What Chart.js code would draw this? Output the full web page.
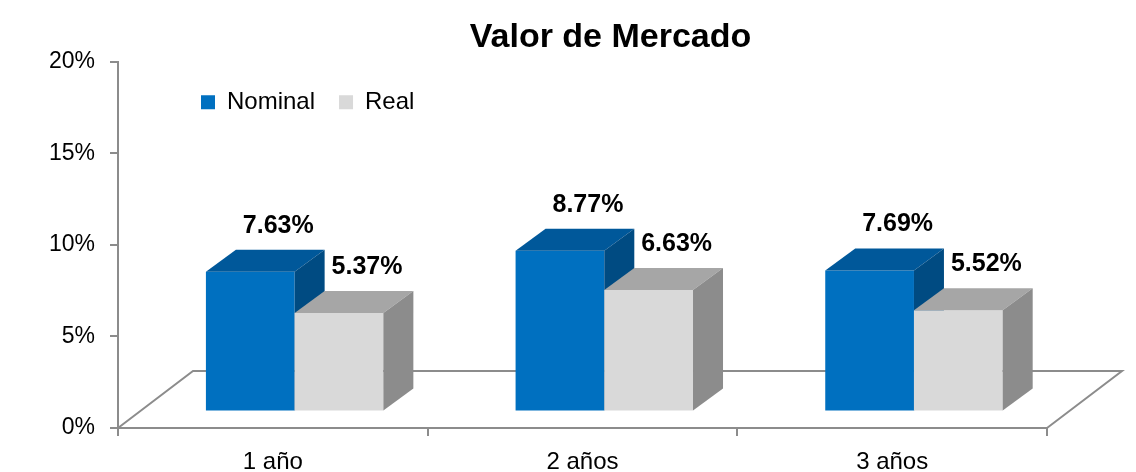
<!DOCTYPE html>
<html>
<head>
<meta charset="utf-8">
<script src="https://cdn.jsdelivr.net/npm/chart.js@4/dist/chart.umd.min.js"></script>
<style>
  html, body { margin: 0; padding: 0; background: #ffffff; }
  #wrap { width: 1136px; height: 472px; position: relative; }
</style>
</head>
<body>
<div id="wrap"><canvas id="c"></canvas></div>
<script>
// ---- data ----
const categories = ['1 año', '2 años', '3 años'];
const seriesNames = ['Nominal', 'Real'];
const nominalValues = [7.63, 8.77, 7.69];
const realValues = [5.37, 6.63, 5.52];
const yTicks = [0, 5, 10, 15, 20];
const chartTitle = 'Valor de Mercado';

// ---- style ----
const FONT = '"Liberation Sans", Arial, sans-serif';
const AXIS_GRAY = '#8c8c8c';
const FLOOR_DEPTH = { x: 75, y: -57 };     // floor depth vector
const BAR_SHIFT = { x: 21.8, y: -16.6 };   // where bars stand inside the floor
const BAR_DEPTH = { x: 30, y: -22 };       // 3D depth of each bar
const faceColors = [
  { front: '#0070C0', top: '#00589A', side: '#004B82' },
  { front: '#D9D9D9', top: '#A6A6A6', side: '#8C8C8C' }
];

const threeD = {
  id: 'threeD',
  beforeUpdate(chart) {
    if (chart.legend && !chart.legend._patched) {
      chart.legend.isHorizontal = () => true;
      chart.legend._patched = true;
    }
  },
  afterLayout(chart) {
    const t = chart.titleBlock;
    if (t) { t.left += 87; t.right += 87; }
    const l = chart.legend;
    if (l) { l.left += 177; l.right += 177; l.top += 4.5; l.bottom += 4.5; }
  },
  beforeDatasetsDraw(chart) {
    const { ctx, chartArea: a } = chart;
    // floor
    ctx.save();
    ctx.strokeStyle = AXIS_GRAY;
    ctx.lineWidth = 2;
    ctx.beginPath();
    ctx.moveTo(a.left, a.bottom);
    ctx.lineTo(a.left + FLOOR_DEPTH.x, a.bottom + FLOOR_DEPTH.y);
    ctx.lineTo(a.right + FLOOR_DEPTH.x, a.bottom + FLOOR_DEPTH.y);
    ctx.lineTo(a.right, a.bottom);
    ctx.stroke();
    ctx.restore();

    // bars, in series order, with their 3D faces
    const metas = chart.getSortedVisibleDatasetMetas().slice().sort((p, q) => p.index - q.index);
    metas.forEach(meta => {
      const col = faceColors[meta.index];
      ctx.save();
      ctx.translate(BAR_SHIFT.x, BAR_SHIFT.y);
      meta.controller.draw();
      meta.data.forEach(bar => {
        const p = bar.getProps(['x', 'y', 'base', 'width'], true);
        const l = p.x - p.width / 2, r = p.x + p.width / 2, t = p.y, b = p.base;
        ctx.fillStyle = col.top;
        ctx.beginPath();
        ctx.moveTo(l, t); ctx.lineTo(r, t);
        ctx.lineTo(r + BAR_DEPTH.x, t + BAR_DEPTH.y);
        ctx.lineTo(l + BAR_DEPTH.x, t + BAR_DEPTH.y);
        ctx.closePath(); ctx.fill();
        ctx.fillStyle = col.side;
        ctx.beginPath();
        ctx.moveTo(r, t);
        ctx.lineTo(r + BAR_DEPTH.x, t + BAR_DEPTH.y);
        ctx.lineTo(r + BAR_DEPTH.x, b + BAR_DEPTH.y);
        ctx.lineTo(r, b);
        ctx.closePath(); ctx.fill();
      });
      ctx.restore();
    });

    // value labels
    ctx.save();
    ctx.font = 'bold 25px ' + FONT;
    ctx.fillStyle = '#000000';
    ctx.textAlign = 'center';
    ctx.textBaseline = 'middle';
    metas.forEach(meta => {
      const ds = chart.data.datasets[meta.index];
      meta.data.forEach((bar, i) => {
        const p = bar.getProps(['x', 'y'], true);
        const x = p.x + BAR_SHIFT.x + 28;
        const y = p.y + BAR_SHIFT.y + BAR_DEPTH.y - 24;
        ctx.fillText(ds.data[i].toFixed(2) + '%', x, y);
      });
    });
    ctx.restore();
    return false;
  }
};

new Chart(document.getElementById('c'), {
  type: 'bar',
  data: {
    labels: categories,
    datasets: [
      { label: seriesNames[0], data: nominalValues, backgroundColor: faceColors[0].front },
      { label: seriesNames[1], data: realValues, backgroundColor: faceColors[1].front }
    ]
  },
  options: {
    responsive: true,
    maintainAspectRatio: false,
    animation: false,
    events: [],
    layout: { padding: { left: 0, right: 89, top: 0, bottom: 0 } },
    datasets: { bar: { categoryPercentage: 0.573, barPercentage: 1.0, borderWidth: 0 } },
    plugins: {
      title: {
        display: true,
        text: chartTitle,
        color: '#000000',
        font: { family: FONT, size: 34, weight: 'bold', lineHeight: 1.2 },
        padding: { top: 17, bottom: 4 }
      },
      legend: {
        display: true,
        position: 'chartArea',
        align: 'start',
        labels: {
          color: '#000000',
          font: { family: FONT, size: 24 },
          boxWidth: 14,
          boxHeight: 14,
          padding: 24
        }
      },
      tooltip: { enabled: false }
    },
    scales: {
      x: {
        offset: true,
        grid: { offset: true, drawOnChartArea: false, drawTicks: true, tickLength: 8, color: AXIS_GRAY, lineWidth: 2 },
        border: { display: true, color: AXIS_GRAY, width: 2 },
        ticks: { color: '#000000', font: { family: FONT, size: 24 }, padding: 12 },
        afterFit(s) { s.height = 44; }
      },
      y: {
        min: 0,
        max: 20,
        afterBuildTicks(s) { s.ticks = yTicks.map(v => ({ value: v })); },
        grid: { drawOnChartArea: false, drawTicks: true, tickLength: 8, color: AXIS_GRAY, lineWidth: 2 },
        border: { display: true, color: AXIS_GRAY, width: 2 },
        ticks: { color: '#000000', font: { family: FONT, size: 23 }, padding: 15, callback: v => v + '%' },
        afterFit(s) { s.width = 118; }
      }
    }
  },
  plugins: [threeD]
});
</script>
</body>
</html>
